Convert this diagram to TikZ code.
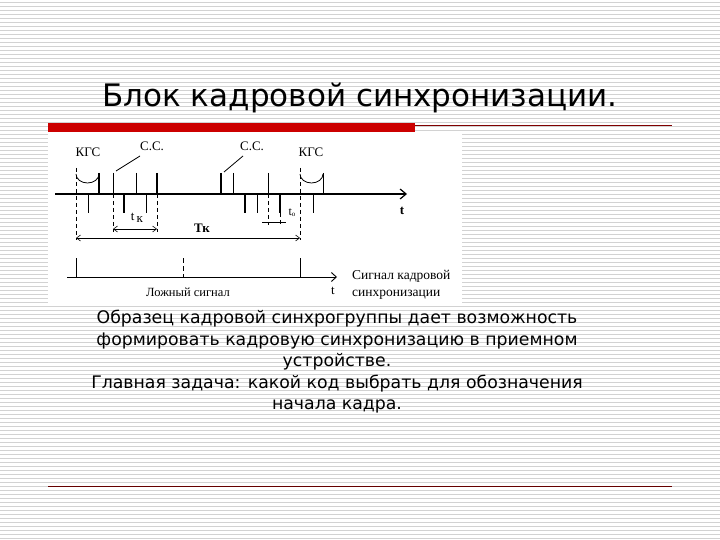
\documentclass[tikz,border=0pt]{standalone}
\usepackage{fontspec}
\setmainfont{DejaVu Sans}
\newfontfamily\serf{Liberation Serif}
\usetikzlibrary{arrows.meta}
\begin{document}
\begin{tikzpicture}[x=1pt,y=-1pt,
  thinp/.style={line width=0.8pt},
  thickp/.style={line width=2pt},
  dsh/.style={line width=0.6pt,dash pattern=on 4pt off 3pt},
  lbl/.style={font=\serf\fontsize{13}{14}\selectfont,inner sep=0pt},
  ar/.style={line width=0.6pt,{Straight Barb[length=4pt,width=6pt]}-{Straight Barb[length=4pt,width=6pt]}}]
\useasboundingbox (0,0) rectangle (720,540);
\fill[white] (0,0) rectangle (720,540);
\foreach \y in {2,6,...,538} \draw[gray!35,line width=0.8pt] (0,\y) -- (720,\y);
\fill[white] (48,133) rectangle (462,305);
% title
\node[font=\fontsize{31}{34}\selectfont] (title) at (360,98) {Блок кадровой синхронизации.};
\fill[red!80!black] (48,123) rectangle (415,132);
\draw[red!50!black,line width=0.8pt] (415,125) -- (672,125);
\draw[red!40!black,line width=1pt] (48,486) -- (672,486);
% diagram
\coordinate (a0) at (55,194); \coordinate (a1) at (407,194);
\draw[line width=1.2pt,-{Straight Barb[length=6pt,width=10pt]}] (a0) -- (a1);
\node[lbl,font=\serf\bfseries\fontsize{13}{14}\selectfont] (t1) at (402,211) {t};
\foreach \x in {113,136,233,268,323} \draw[thinp] (\x,173) -- (\x,194);
\foreach \x in {99,157,221} \draw[thickp] (\x,173) -- (\x,194);
\foreach \x in {88,146,257,313} \draw[thinp] (\x,194) -- (\x,213);
\foreach \x in {124,245,280} \draw[thickp] (\x,194) -- (\x,213);
\draw[dsh] (76,168) -- (76,240);
\draw[dsh] (113,194) -- (113,232);
\draw[dsh] (157,194) -- (157,232);
\draw[dsh] (268,194) -- (268,225);
\draw[dsh] (280,213) -- (280,225);
\draw[dsh] (300,168) -- (300,240);
\draw[thinp] (76,174) arc[start angle=180,end angle=0,x radius=11.5,y radius=9];
\draw[thinp] (300,174) arc[start angle=180,end angle=0,x radius=11.5,y radius=9];
\node[lbl] (k1) at (88,152) {КГС};
\node[lbl] (k2) at (311,152) {КГС};
\node[lbl] (s1) at (152,146) {С.С.};
\node[lbl] (s2) at (252,146) {С.С.};
\draw[thinp] (116,171) -- (140,156);
\draw[thinp] (224,172) -- (243,156);
\draw[ar] (113,229) -- (157,229);
\draw[ar] (76,238) -- (300,238);
\node[lbl] (tk) at (137,218) {t\,\raisebox{-2pt}{к}};
\node[lbl,font=\serf\bfseries\fontsize{13}{14}\selectfont] (Tk) at (202,228) {Тк};
\node[lbl,font=\serf\fontsize{12}{12}\selectfont] (to) at (292,213) {t\raisebox{-1pt}{\scriptsize о}};
\draw[line width=0.6pt] (262,222) -- (286,222);
% second axis
\draw[line width=0.9pt,-{Straight Barb[length=5pt,width=9pt]}] (67,277) -- (337,277);
\draw[thinp] (76,258) -- (76,277);
\draw[thinp] (300,258) -- (300,277);
\draw[thinp,dash pattern=on 5pt off 3pt] (183,258) -- (183,277);
\node[lbl] (t2) at (333,291) {t};
\node[lbl,font=\serf\fontsize{12.5}{14}\selectfont] (ls) at (188,292) {Ложный сигнал};
\node[lbl,anchor=west,font=\serf\fontsize{13.5}{14}\selectfont] (sk1) at (352,276) {Сигнал кадровой};
\node[lbl,anchor=west,font=\serf\fontsize{13.5}{14}\selectfont] (sk2) at (352,295) {синхронизации};
% body
\node[font=\fontsize{17.3}{21.5}\selectfont,align=center] (body) at (337,362) {Образец кадровой синхрогруппы дает возможность\\формировать кадровую синхронизацию в приемном\\устройстве.\\Главная задача: какой код выбрать для обозначения\\начала кадра.};
\end{tikzpicture}
\end{document}
